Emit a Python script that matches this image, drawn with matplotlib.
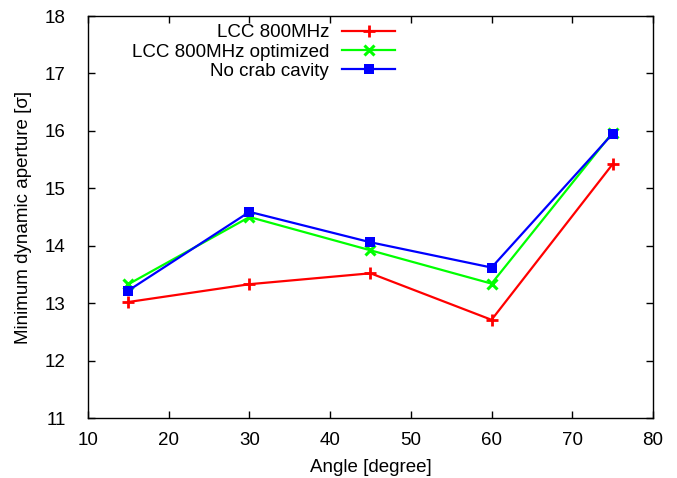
import matplotlib
matplotlib.use("Agg")
import matplotlib.pyplot as plt

plt.rcParams['font.family'] = ['Liberation Sans', 'DejaVu Sans']

angles = [15, 30, 45, 60, 75]
lcc = [13.02, 13.33, 13.52, 12.71, 15.42]
lcc_opt = [13.33, 14.50, 13.92, 13.34, 15.97]
no_crab = [13.22, 14.59, 14.06, 13.62, 15.95]

labels = ["LCC 800MHz", "LCC 800MHz optimized", "No crab cavity"]

FS = 13.5

fig = plt.figure(figsize=(6.77, 4.78), dpi=100)
ax = fig.add_axes([0.130, 0.1255, 0.8345, 0.841])

ax.plot(angles, lcc, color='#ff0000', lw=1.6, marker='+', ms=9, mew=2, label=labels[0])
ax.plot(angles, lcc_opt, color='#00ff00', lw=1.6, marker='x', ms=7, mew=2.2, label=labels[1])
ax.plot(angles, no_crab, color='#0000ff', lw=1.6, marker='s', ms=7, mew=0, label=labels[2])

ax.set_xlim(10, 80)
ax.set_ylim(11, 18)
ax.set_xticks(range(10, 81, 10))
ax.set_yticks(range(11, 19))
ax.tick_params(direction='in', top=True, right=True, length=5, labelsize=FS, width=1)
ax.tick_params(axis='x', pad=10)
ax.tick_params(axis='y', pad=16)
for s in ax.spines.values():
    s.set_linewidth(1.0)
ax.set_xlabel("Angle [degree]", fontsize=FS, labelpad=7.5)
ax.set_ylabel("Minimum dynamic aperture [σ]", fontsize=FS, labelpad=9)

leg = ax.legend(loc='upper right', bbox_to_anchor=(0.543, 0.98), frameon=False, fontsize=FS,
                markerfirst=False, handlelength=2.8, handletextpad=0.7, labelspacing=0.12,
                borderaxespad=0.0, borderpad=0.0)
for t in leg.get_texts():
    t.set_ha('right')
    t.set_position((0, 0))
leg._legend_box.align = "right"

fig.savefig("out.png", dpi=100)
